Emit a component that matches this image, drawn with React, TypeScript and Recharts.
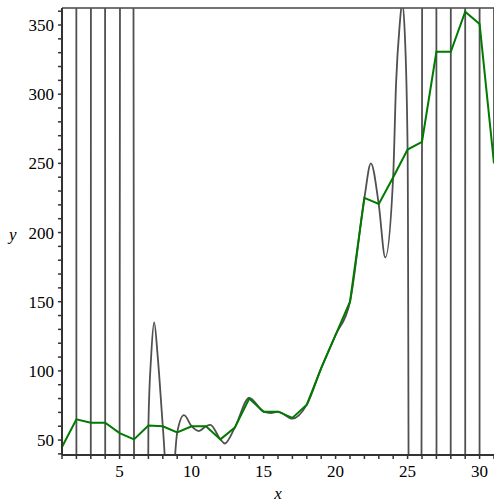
import React from 'react';
import { LineChart, Line, XAxis, YAxis, ReferenceLine } from 'recharts';

// data points (green polyline)
const pointX = [1, 2, 3, 4, 5, 6, 7, 8, 9, 10, 11, 12, 13, 14, 15, 16, 17, 18, 19, 20, 21, 22, 23, 24, 25, 26, 27, 28, 29, 30, 31];
const pointY = [45, 65, 62.5, 62.5, 55, 50.5, 60.5, 60, 55.5, 60, 60, 50.5, 59, 80, 70.5, 70.5, 66, 75.6, 102, 126, 150, 225, 220.6, 240, 260, 265.6, 330.7, 330.7, 359.6, 350.7, 250];

// grey interpolating curve (values far outside the view are guesses)
const curveX = [1, 1.5, 2, 2.5, 3, 3.5, 4, 4.5, 5, 5.5, 6, 6.5, 7, 7.2, 7.4, 7.65, 8, 8.5, 9, 9.47, 10, 10.5, 11, 11.3, 12, 12.3, 13, 14, 15, 15.5, 16, 17, 18, 19, 20, 21, 22, 22.45, 23, 23.45, 24, 24.2, 24.45, 24.62, 24.8, 25, 25.5, 26, 26.5, 27, 27.5, 28, 28.5, 29, 29.5, 30, 30.5, 31];
const curveY = [45, 30000, 65, -20000, 62.5, 15000, 62.5, -8000, 55, 4000, 50.5, -1200, 60.5, 112, 135, 110, 60, -5, 55.5, 68, 60, 56.5, 60, 61, 50.5, 47.5, 59, 80.5, 70.5, 69.5, 70.5, 65.5, 75.6, 102, 126, 150, 225, 250, 220, 182, 241, 308, 350, 366, 345, 260, -3000, 265.6, 9000, 330.7, -16000, 330.7, 30000, 359.6, -50000, 350.7, 80000, 250];

const xTicks = [1, 2, 3, 4, 5, 6, 7, 8, 9, 10, 11, 12, 13, 14, 15, 16, 17, 18, 19, 20, 21, 22, 23, 24, 25, 26, 27, 28, 29, 30, 31];
const yTicks = [40, 50, 60, 70, 80, 90, 100, 110, 120, 130, 140, 150, 160, 170, 180, 190, 200, 210, 220, 230, 240, 250, 260, 270, 280, 290, 300, 310, 320, 330, 340, 350, 360];

const points = pointX.map((x, i) => ({ x, y: pointY[i] }));
const curve = curveX.map((x, i) => ({ x, y: curveY[i] }));

const FONT = '"Liberation Serif", "Times New Roman", serif';
const Y_MIN = 39.2;
const Y_MAX = 362.3;

const XTick = (props: any) => {
  const { x, y, payload } = props;
  if (payload.value % 5 !== 0) return null;
  return (
    <text x={x} y={y + 16} textAnchor="middle" fontFamily={FONT} fontSize={17} fill="#000">
      {payload.value}
    </text>
  );
};

const YTick = (props: any) => {
  const { x, y, payload } = props;
  if (payload.value % 50 !== 0) return null;
  return (
    <text x={x} y={y + 6} textAnchor="end" fontFamily={FONT} fontSize={17} fill="#000">
      {payload.value}
    </text>
  );
};

const App: React.FC = () => {
  return (
    <div style={{ position: 'absolute', left: 0, top: 0, background: '#fff' }}>
      <LineChart width={494} height={502} margin={{ top: 8, right: 0, left: 0, bottom: 0 }}>
        <XAxis
          type="number"
          dataKey="x"
          domain={[1, 31]}
          ticks={xTicks}
          interval={0}
          allowDataOverflow
          height={47}
          tickSize={4}
          tickMargin={2}
          tick={<XTick />}
          axisLine={{ stroke: '#333', strokeWidth: 2 }}
          tickLine={{ stroke: '#333', strokeWidth: 1.5 }}
          label={{ value: 'x', position: 'insideBottom', offset: 3, fontFamily: FONT, fontSize: 17, fontStyle: 'italic', fill: '#000' }}
        />
        <YAxis
          type="number"
          dataKey="y"
          domain={[Y_MIN, Y_MAX]}
          ticks={yTicks}
          interval={0}
          allowDataOverflow
          width={62}
          tickSize={4}
          tickMargin={4}
          tick={<YTick />}
          axisLine={{ stroke: '#333', strokeWidth: 2 }}
          tickLine={{ stroke: '#333', strokeWidth: 1.5 }}
          label={{ value: 'y', position: 'insideLeft', offset: 9, dy: 2, fontFamily: FONT, fontSize: 17, fontStyle: 'italic', fill: '#000' }}
        />
        <ReferenceLine y={Y_MAX} stroke="#444" strokeWidth={1.5} />
        <Line
          data={curve}
          dataKey="y"
          type="monotone"
          stroke="#505050"
          strokeWidth={1.8}
          dot={false}
          isAnimationActive={false}
        />
        <Line
          data={points}
          dataKey="y"
          type="linear"
          stroke="#007a00"
          strokeWidth={2}
          dot={false}
          isAnimationActive={false}
        />
      </LineChart>
    </div>
  );
};

export default App;
